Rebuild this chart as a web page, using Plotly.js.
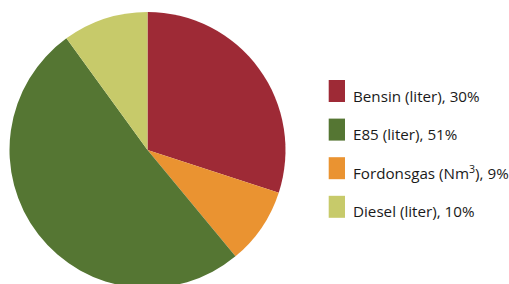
<!DOCTYPE html>
<html>
<head>
<meta charset="utf-8">
<script src="https://cdn.plot.ly/plotly-3.0.1.min.js"></script>
<style>
html, body { margin: 0; padding: 0; overflow: hidden; background: #fff; }
#chart { width: 509px; height: 300px; }
</style>
</head>
<body>
<div id="chart"></div>
<script>
// Slices in drawing order (clockwise from 12 o'clock)
const sliceLabels = ['Bensin (liter)', 'Fordonsgas (Nm<sup>3</sup>)', 'E85 (liter)', 'Diesel (liter)'];
const sliceValues = [30, 9, 51, 10];
const sliceColors = ['#9E2A36', '#EA9331', '#557633', '#C7CA6A'];
// Legend order as in the reference
const legendLabels = ['Bensin (liter)', 'E85 (liter)', 'Fordonsgas (Nm<sup>3</sup>)', 'Diesel (liter)'];

const W = 509, H = 300;
const px = x => x / W;
const py = y => (H - y) / H;

const trace = {
  type: 'pie',
  labels: sliceLabels,
  values: sliceValues,
  marker: { colors: sliceColors, line: { width: 0 } },
  sort: false,
  direction: 'clockwise',
  rotation: 0,
  textinfo: 'none',
  hoverinfo: 'none',
  showlegend: false,
  domain: { x: [px(9.5), px(285.5)], y: [py(288), py(12)] }
};

const shapes = [];
const annotations = [];
legendLabels.forEach((lab, i) => {
  const idx = sliceLabels.indexOf(lab);
  const top = 80 + i * 38.6;
  shapes.push({
    type: 'rect', xref: 'paper', yref: 'paper',
    x0: px(328.7), x1: px(345), y0: py(top + 22), y1: py(top),
    fillcolor: sliceColors[idx], line: { width: 0 }
  });
  annotations.push({
    xref: 'paper', yref: 'paper', x: px(350.5), y: py(top + 15.5),
    xanchor: 'left', yanchor: 'middle', showarrow: false,
    text: lab + ', ' + sliceValues[idx] + '%',
    font: { family: 'Open Sans, sans-serif', size: 15.2, color: '#1a1a1a' }
  });
});

Plotly.newPlot('chart', [trace], {
  width: W, height: H,
  margin: { l: 0, r: 0, t: 0, b: 0, pad: 0 },
  paper_bgcolor: '#ffffff',
  plot_bgcolor: '#ffffff',
  showlegend: false,
  shapes: shapes,
  annotations: annotations
}, { displayModeBar: false, staticPlot: true });
</script>
</body>
</html>
